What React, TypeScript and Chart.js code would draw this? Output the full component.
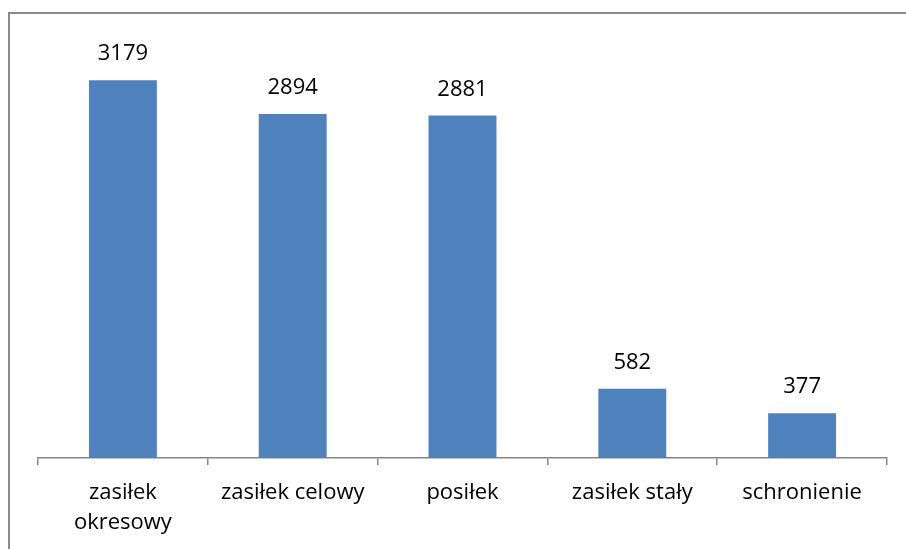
import React, { useEffect, useRef } from "react";
import { Chart, registerables } from "chart.js";

Chart.register(...registerables);

const categories: (string | string[])[] = [
  ["zasiłek", "okresowy"],
  "zasiłek celowy",
  "posiłek",
  "zasiłek stały",
  "schronienie",
];
const values: number[] = [3179, 2894, 2881, 582, 377];
const yMax = 3500;

const FONT = "'Open Sans', 'DejaVu Sans', sans-serif";

const valueLabels = {
  id: "valueLabels",
  afterDatasetsDraw(chart: any) {
    const ctx = chart.ctx;
    const meta = chart.getDatasetMeta(0);
    ctx.save();
    ctx.font = `22px ${FONT}`;
    ctx.fillStyle = "#000000";
    ctx.textAlign = "center";
    ctx.textBaseline = "alphabetic";
    meta.data.forEach((bar: any, i: number) => {
      ctx.fillText(String(values[i]), bar.x, bar.y - 20);
    });
    ctx.restore();
  },
};

export default function App() {
  const ref = useRef<HTMLCanvasElement>(null);
  useEffect(() => {
    if (!ref.current) return;
    const chart = new Chart(ref.current, {
      type: "bar",
      data: {
        labels: categories,
        datasets: [
          {
            data: values,
            backgroundColor: "#4F81BD",
            borderWidth: 0,
            categoryPercentage: 1,
            barPercentage: 0.4,
          },
        ],
      },
      options: {
        animation: false,
        responsive: false,
        maintainAspectRatio: false,
        layout: { padding: { left: 38, right: 19, top: 42, bottom: 0 } },
        plugins: {
          legend: { display: false },
          tooltip: { enabled: false },
        },
        scales: {
          y: { display: false, min: 0, max: yMax },
          x: {
            afterFit: (s: any) => {
              s.height = 91;
            },
            border: { display: true, color: "#868686", width: 1.5 },
            grid: {
              display: true,
              offset: true,
              drawOnChartArea: false,
              drawTicks: true,
              tickLength: 7,
              color: "#868686",
              lineWidth: 1.5,
            },
            ticks: {
              color: "#000000",
              font: { family: FONT, size: 22, lineHeight: 1.36 },
              padding: 13,
              maxRotation: 0,
              autoSkip: false,
            },
          },
        },
      },
      plugins: [valueLabels],
    });
    return () => chart.destroy();
  }, []);

  return (
    <div style={{ position: "absolute", left: 0, top: 0, width: 906, height: 549, background: "#ffffff", overflow: "hidden" }}>
      <div
        style={{
          position: "absolute",
          left: 8,
          top: 12,
          width: 1000,
          height: 1000,
          borderLeft: "2px solid #8a8a8a",
          borderTop: "2px solid #8a8a8a",
          boxSizing: "border-box",
        }}
      />
      <canvas ref={ref} width={906} height={549} style={{ position: "absolute", left: 0, top: 0 }} />
    </div>
  );
}
